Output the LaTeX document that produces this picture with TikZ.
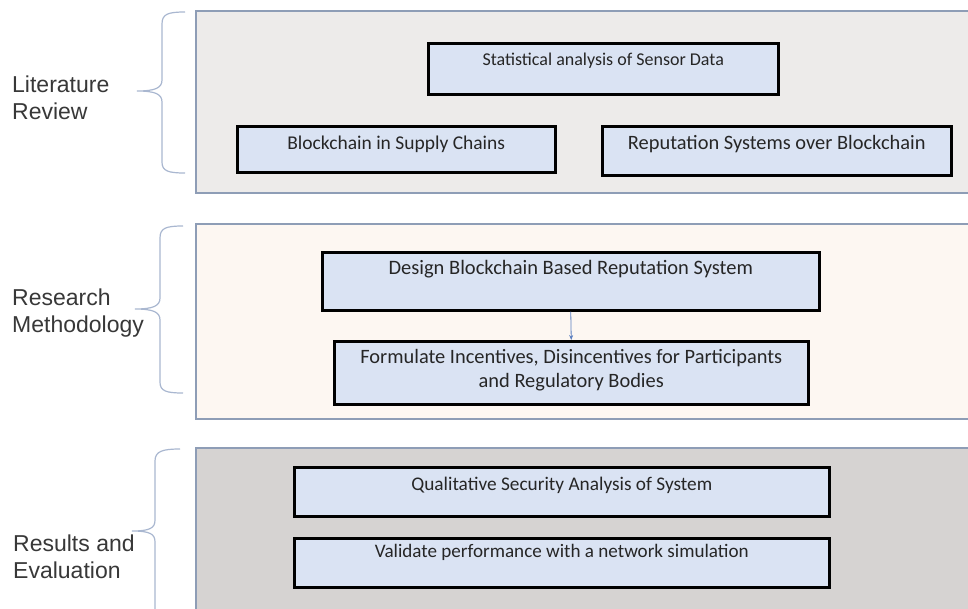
\documentclass[tikz,border=0pt]{standalone}
\usepackage{fontspec}
\setmainfont{Liberation Sans}
\newfontfamily\boxfont{Carlito}
\usetikzlibrary{arrows.meta}
\definecolor{panelborder}{HTML}{8E9DB6}
\definecolor{panelA}{HTML}{EDEBEA}
\definecolor{panelB}{HTML}{FDF7F2}
\definecolor{panelC}{HTML}{D6D3D2}
\definecolor{boxfill}{HTML}{DAE3F3}
\definecolor{bracecol}{HTML}{A9B7D0}
\definecolor{arrowcol}{HTML}{5B7FC0}
\newcommand{\bfs}[1]{\boxfont\fontsize{#1}{24}\selectfont}
\begin{document}
\begin{tikzpicture}[x=1pt,y=-1pt,
  panel/.style={draw=panelborder, line width=1.5pt, anchor=north west, inner sep=0pt},
  stepbox/.style={draw=black, line width=2.5pt, fill=boxfill, anchor=north west, inner sep=0pt},
  boxtext/.style={align=center, text=black!85, inner sep=0pt},
  sidelabel/.style={font=\fontsize{23}{27}\selectfont, align=left, anchor=west, text=black!78, inner sep=0pt},
  bracepath/.style={draw=bracecol, line width=1.2pt},
  flow/.style={draw=arrowcol, line width=0.8pt, -{Stealth[length=5pt,width=4pt]}}
]
\useasboundingbox (0,0) rectangle (968,608);
\fill[white] (0,0) rectangle (968,608);

% panels
\node[panel, fill=panelA, minimum width=790, minimum height=182] (p1) at (195,10) {};
\node[panel, fill=panelB, minimum width=790, minimum height=195] (p2) at (195,223) {};
\node[panel, fill=panelC, minimum width=790, minimum height=200] (p3) at (195,447) {};

% braces
\draw[bracepath] (185,12) .. controls (168,12) and (162,14) .. (162,24) -- (162,80)
  .. controls (162,88) and (155,91) .. (137,91) .. controls (155,91) and (162,94) .. (162,102)
  -- (162,162) .. controls (162,171) and (168,173) .. (185,173);
\draw[bracepath] (183,226) .. controls (166,226) and (160,228) .. (160,238) -- (160,298)
  .. controls (160,306) and (153,309) .. (135,309) .. controls (153,309) and (160,312) .. (160,320)
  -- (160,382) .. controls (160,391) and (166,393) .. (183,393);
\draw[bracepath] (180,449) .. controls (163,449) and (155,451) .. (155,461) -- (155,520)
  .. controls (155,528) and (150,531) .. (132,531) .. controls (150,531) and (155,534) .. (155,542)
  -- (155,615);

% side labels
\node[sidelabel] (lit) at (12,98) {Literature\\Review};
\node[sidelabel] (res) at (12,313) {Research\\Methodology};
\node[sidelabel] (eval) at (13,557) {Results and\\Evaluation};

% boxes
\node[stepbox, minimum width=350, minimum height=51,
  label={[boxtext, font=\bfs{18}, anchor=center, yshift=-18.5pt]north:Statistical analysis of Sensor Data}] (stat) at (427,42) {};
\node[stepbox, minimum width=318, minimum height=46,
  label={[boxtext, font=\bfs{19.5}, anchor=center, yshift=-19pt]north:Blockchain in Supply Chains}] (bsc) at (236,125) {};
\node[stepbox, minimum width=349, minimum height=49,
  label={[boxtext, font=\bfs{20.4}, anchor=center, yshift=-19.5pt]north:Reputation Systems over Blockchain}] (rep) at (601,125) {};
\node[stepbox, minimum width=497, minimum height=58,
  label={[boxtext, font=\bfs{20.5}, anchor=center, yshift=-18pt]north:Design Blockchain Based Reputation System}] (design) at (321,251) {};
\node[stepbox, minimum width=474, minimum height=63] (form) at (333,340) {};
\node[boxtext, font=\boxfont\fontsize{20.4}{23.5}\selectfont] (formtext) at ([yshift=2.5pt]form.center) {Formulate Incentives, Disincentives for Participants\\and Regulatory Bodies};
\node[stepbox, minimum width=535, minimum height=49,
  label={[boxtext, font=\bfs{19.3}, anchor=center, yshift=-19pt]north:Qualitative Security Analysis of System}] (qual) at (293,466) {};
\node[stepbox, minimum width=535, minimum height=49,
  label={[boxtext, font=\bfs{19.1}, anchor=center, yshift=-15.5pt]north:Validate performance with a network simulation}] (valid) at (293,537) {};

\draw[flow] (design.south) -- (form.north);
\end{tikzpicture}
\end{document}
